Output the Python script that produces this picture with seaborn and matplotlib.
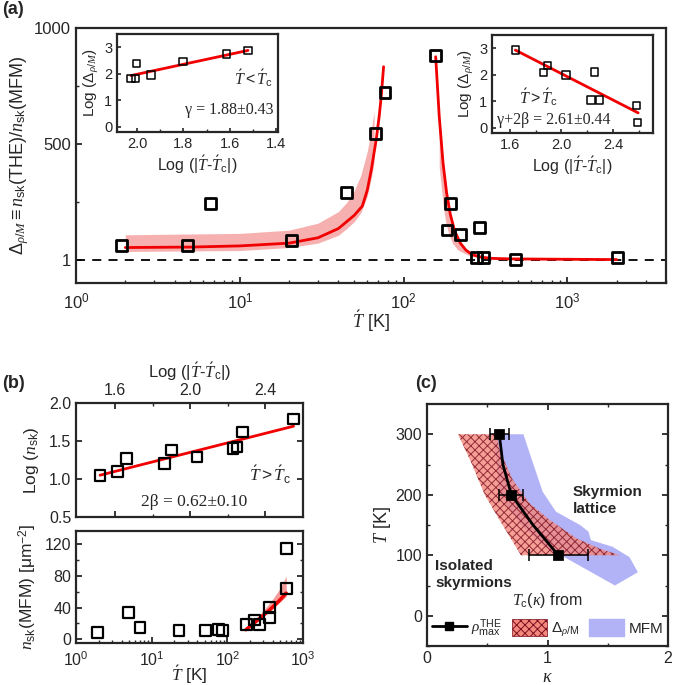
import numpy as np
import pandas as pd
import matplotlib
matplotlib.use("Agg")
import matplotlib.pyplot as plt
import seaborn as sns
from matplotlib.lines import Line2D
from matplotlib.patches import Patch
from matplotlib.ticker import FixedLocator, MultipleLocator, LogLocator, NullFormatter

# ---------------- data: panel (a) ----------------
a_T = [1.9, 4.8, 6.6, 20.7, 44.8, 67.4, 76.9, 157, 184, 193, 222, 290, 280, 307, 484, 2018]
a_D = [62, 62, 242, 83, 290, 546, 721, 880, 129, 244, 108, 138, 10, 10, 3, 10]

# fit below T'c
fitL_T = [2, 5, 10, 20, 30, 40, 45, 50, 56, 60, 63.5, 68, 71, 73, 75.5]
fitL_D = [53, 55, 60, 72, 95, 135, 165, 192, 232, 300, 388, 517, 620, 704, 833]
bandL_T = [2, 10, 20, 30, 40, 45, 50, 55, 60, 64, 66]
bandL_hi = [108, 114, 128, 158, 208, 248, 298, 368, 468, 575, 640]
bandL_lo = [36, 40, 53, 72, 106, 135, 165, 205, 275, 365, 420]
# fit above T'c
fitH_T = [157, 165, 174, 183, 193, 205, 222, 240, 263, 300, 350, 450, 700, 1200, 2000]
fitH_D = [876, 620, 420, 290, 195, 125, 72, 42, 22, 11, 6, 4, 3, 2, 1]
bandH_T = [165, 175, 181, 190, 199, 215, 234, 260, 300, 350]
bandH_hi = [625, 400, 305, 210, 150, 95, 52, 26, 12, 7]
bandH_lo = [400, 230, 160, 105, 72, 42, 29, 15, 8, 5]

# insets of (a)
inL_x = [2.026, 2.006, 2.002, 1.939, 1.802, 1.614, 1.522]
inL_y = [1.81, 1.81, 2.38, 1.95, 2.47, 2.75, 2.88]
inL_fx = [2.026, 1.522]
inL_fy = [1.93, 2.88]
inR_x = [1.644, 1.86, 1.894, 2.036, 2.255, 2.23, 2.294, 2.583, 2.588]
inR_y = [2.93, 2.08, 2.35, 1.99, 2.10, 1.04, 1.04, 0.84, 0.19]
inR_fx = [1.644, 2.595]
inR_fy = [2.93, 0.56]

# ---------------- data: panel (b) ----------------
bt_x = [1.52, 1.614, 1.662, 1.863, 1.9, 2.036, 2.228, 2.249, 2.279, 2.551]
bt_y = [1.05, 1.095, 1.27, 1.205, 1.38, 1.29, 1.40, 1.42, 1.62, 1.79]
bt_fx = [1.52, 2.551]
bt_fy = [1.05, 1.695]

bb_T = [1.94, 4.9, 7.0, 23, 51, 76, 87, 181, 226, 266, 360, 360, 600, 600]
bb_n = [8.3, 33.5, 14.6, 10.8, 10.8, 11.7, 10.8, 18.9, 24.3, 18.9, 27.7, 39.7, 64, 115]
bbfit_T = [176, 200, 250, 300, 350, 400, 480, 550, 600]
bbfit_n = [11.8, 16.3, 23.8, 30.1, 35.7, 40.8, 48.2, 54.2, 58.3]
bbband_hi = [11.8, 17.5, 27.5, 36, 44, 51, 62, 72, 80]
bbband_lo = [11.0, 16.0, 23.0, 28.8, 34.0, 38.6, 45.4, 50.8, 54.0]

# ---------------- data: panel (c) ----------------
c_line_k = [0.60, 0.63, 0.70, 0.88, 1.09]
c_line_T = [300, 250, 200, 150, 100]
c_pts_k = [0.60, 0.70, 1.09]
c_pts_T = [300, 200, 100]
c_err_lo = [0.08, 0.10, 0.24]
c_err_hi = [0.08, 0.10, 0.25]
red_k = [0.257, 0.368, 0.479, 0.603, 0.78, 1.60, 1.43, 1.24, 1.02, 0.85, 0.71, 0.60, 0.58]
red_T = [300, 253, 200, 158, 100, 100, 111, 128, 158, 186, 225, 275, 300]
blue_k = [0.55, 0.80, 0.87, 0.96, 1.07, 1.27, 1.34, 1.36, 1.54, 1.68, 1.75, 1.56, 1.13, 1.0, 0.78, 0.6, 0.58]
blue_T = [300, 300, 258, 205, 172, 150, 139, 125, 114, 97, 72, 50, 98, 110, 150, 200, 250]

# ---------------- style ----------------
sns.set_theme(style="ticks")
plt.rcParams["font.family"] = ["Liberation Sans", "DejaVu Sans"]
plt.rcParams["mathtext.fontset"] = "custom"
plt.rcParams["mathtext.rm"] = "Liberation Sans"
plt.rcParams["mathtext.it"] = "Liberation Serif:italic"
plt.rcParams["mathtext.bf"] = "Liberation Sans:bold"
plt.rcParams["axes.linewidth"] = 1.6
plt.rcParams["hatch.linewidth"] = 0.7
plt.rcParams["xtick.direction"] = "in"
plt.rcParams["ytick.direction"] = "in"

RED = "#f00000"
PINK = "#f7b0b0"
SALMON = "#f4877c"
DARKRED = "#7a1020"
LAV = "#b2b2f7"
SERIF = ["Liberation Serif", "DejaVu Serif"]

W, H = 673, 685
fig = plt.figure(figsize=(W / 100, H / 100), dpi=100)


def px_axes(x0, y0, x1, y1):
    return fig.add_axes([x0 / W, 1 - y1 / H, (x1 - x0) / W, (y1 - y0) / H])


def squares(ax, x, y, s, lw):
    sns.scatterplot(x=x, y=y, ax=ax, marker="s", s=s, facecolor="none",
                    edgecolor="black", linewidth=lw, zorder=5, legend=False)


def redline(ax, x, y, lw=2):
    sns.lineplot(x=x, y=y, ax=ax, color=RED, lw=lw, estimator=None, sort=False, zorder=4)


# ================= panel (a) =================
ax = px_axes(76, 28, 666, 283)
ax.set_xscale("log")
ax.fill_between(bandL_T, bandL_lo, bandL_hi, color=PINK, lw=0, zorder=1)
ax.fill_between(bandH_T, bandH_lo, bandH_hi, color=PINK, lw=0, zorder=1)
ax.axhline(1, color="black", ls=(0, (5, 4)), lw=1.3, zorder=2)
redline(ax, fitL_T, fitL_D)
redline(ax, fitH_T, fitH_D)
squares(ax, a_T, a_D, 60, 2.0)
ax.set_xlim(1, 4000)
ax.set_ylim(-100, 1000)
ax.yaxis.set_major_locator(FixedLocator([1, 500, 1000]))
ax.yaxis.set_minor_locator(FixedLocator([250, 750]))
ax.set_yticklabels(["1", "500", "1000"])
ax.xaxis.set_major_locator(LogLocator(base=10, numticks=10))
ax.xaxis.set_minor_locator(LogLocator(base=10, subs=np.arange(2, 10), numticks=20))
ax.xaxis.set_minor_formatter(NullFormatter())
ax.tick_params(which="major", length=4, width=1.3, labelsize=12)
ax.tick_params(which="minor", length=2.5, width=1.0)
ax.tick_params(axis="x", pad=6)
ax.set_xlabel(r"$\acute{T}$ [K]", fontsize=13, labelpad=-2)
ax.set_ylabel(r"$\Delta_{\rho/M}\equiv n_{\rm sk}$(THE)/$n_{\rm sk}$(MFM)", fontsize=13, labelpad=2)

# left inset
ia = px_axes(117, 34, 278, 132)
redline(ia, inL_fx, inL_fy)
squares(ia, inL_x, inL_y, 28, 1.1)
ia.set_xlim(2.086, 1.393)
ia.set_ylim(-0.2, 3.5)
ia.xaxis.set_major_locator(FixedLocator([2.0, 1.8, 1.6, 1.4]))
ia.xaxis.set_minor_locator(FixedLocator([1.9, 1.7, 1.5]))
ia.set_xticklabels(["2.0", "1.8", "1.6", "1.4"])
ia.yaxis.set_major_locator(FixedLocator([0, 1, 2, 3]))
ia.tick_params(which="major", length=3, width=1.2, labelsize=10.5)
ia.tick_params(which="minor", length=2, width=1.0)
ia.set_xlabel(r"Log (|$\acute{T}$-$\acute{T}_{\rm c}$|)", fontsize=11.5, labelpad=2)
ia.set_ylabel(r"Log ($\Delta_{\rho/M}$)", fontsize=11, labelpad=2)
ia.text(0.97, 0.55, r"$\acute{T} < \acute{T}_{\rm c}$", transform=ia.transAxes,
        ha="right", va="center", fontsize=11.5, family=SERIF)
ia.text(0.97, 0.22, "γ = 1.88±0.43", transform=ia.transAxes,
        ha="right", va="center", fontsize=11.5, family=SERIF)

# right inset
ib = px_axes(492, 35, 653, 133)
redline(ib, inR_fx, inR_fy)
squares(ib, inR_x, inR_y, 28, 1.1)
ib.set_xlim(1.463, 2.71)
ib.set_ylim(-0.2, 3.5)
ib.xaxis.set_major_locator(FixedLocator([1.6, 2.0, 2.4]))
ib.xaxis.set_minor_locator(FixedLocator([1.8, 2.2, 2.6]))
ib.set_xticklabels(["1.6", "2.0", "2.4"])
ib.yaxis.set_major_locator(FixedLocator([0, 1, 2, 3]))
ib.tick_params(which="major", length=3, width=1.2, labelsize=10.5)
ib.tick_params(which="minor", length=2, width=1.0)
ib.set_xlabel(r"Log (|$\acute{T}$-$\acute{T}_{\rm c}$|)", fontsize=11.5, labelpad=2)
ib.set_ylabel(r"Log ($\Delta_{\rho/M}$)", fontsize=11, labelpad=2)
ib.text(0.17, 0.37, r"$\acute{T} > \acute{T}_{\rm c}$", transform=ib.transAxes,
        ha="left", va="center", fontsize=11.5, family=SERIF)
ib.text(0.03, 0.13, "γ+2β = 2.61±0.44", transform=ib.transAxes,
        ha="left", va="center", fontsize=11.5, family=SERIF)

# ================= panel (b) top =================
bt = px_axes(76, 403, 303, 517)
redline(bt, bt_fx, bt_fy)
squares(bt, bt_x, bt_y, 60, 1.6)
bt.set_xlim(1.392, 2.601)
bt.set_ylim(0.5, 2.0)
bt.xaxis.set_major_locator(FixedLocator([1.6, 2.0, 2.4]))
bt.xaxis.set_minor_locator(FixedLocator([1.8, 2.2]))
bt.set_xticklabels(["1.6", "2.0", "2.4"])
bt.yaxis.set_major_locator(FixedLocator([0.5, 1.0, 1.5, 2.0]))
bt.set_yticklabels(["0.5", "1.0", "1.5", "2.0"])
bt.tick_params(axis="x", which="both", top=True, bottom=True, labeltop=True, labelbottom=False)
bt.tick_params(axis="y", which="both", left=True, right=True)
bt.tick_params(which="major", length=4, width=1.3, labelsize=11.5)
bt.tick_params(which="minor", length=2.5, width=1.0)
bt.xaxis.set_label_position("top")
bt.set_xlabel(r"Log (|$\acute{T}$-$\acute{T}_{\rm c}$|)", fontsize=12, labelpad=4)
bt.set_ylabel(r"Log ($n_{\rm sk}$)", fontsize=12.5, labelpad=6)
bt.text(0.95, 0.37, r"$\acute{T} > \acute{T}_{\rm c}$", transform=bt.transAxes,
        ha="right", va="center", fontsize=12.5, family=SERIF)
bt.text(0.52, 0.13, "2β = 0.62±0.10", transform=bt.transAxes,
        ha="center", va="center", fontsize=12.5, family=SERIF)

# ================= panel (b) bottom =================
bb = px_axes(76, 531, 303, 643)
bb.set_xscale("log")
bb.fill_between(bbfit_T, bbband_lo, bbband_hi, color="#f59a9a", lw=0, zorder=1)
redline(bb, bbfit_T, bbfit_n, lw=2.5)
squares(bb, bb_T, bb_n, 60, 1.6)
bb.set_xlim(1, 1000)
bb.set_ylim(-5, 137)
bb.yaxis.set_major_locator(FixedLocator([0, 40, 80, 120]))
bb.yaxis.set_minor_locator(FixedLocator([20, 60, 100]))
bb.xaxis.set_major_locator(LogLocator(base=10, numticks=10))
bb.xaxis.set_minor_locator(LogLocator(base=10, subs=np.arange(2, 10), numticks=20))
bb.xaxis.set_minor_formatter(NullFormatter())
bb.tick_params(axis="y", which="both", left=True, right=True)
bb.tick_params(which="major", length=4, width=1.3, labelsize=11.5)
bb.tick_params(axis="x", pad=5)
bb.tick_params(which="minor", length=2.5, width=1.0)
bb.set_xlabel(r"$\acute{T}$ [K]", fontsize=12.5, labelpad=-4)
bb.set_ylabel(r"$n_{\rm sk}$(MFM) [μm$^{-2}$]", fontsize=12.5, labelpad=4)

# ================= panel (c) =================
cx = px_axes(427, 404, 668, 646)
cx.fill(blue_k, blue_T, facecolor=LAV, edgecolor="none", zorder=1)
cx.fill(red_k, red_T, facecolor=SALMON, edgecolor=DARKRED, hatch="xxxx", lw=0,
        alpha=0.8, zorder=2)
sns.lineplot(x=c_line_k, y=c_line_T, ax=cx, color="black", lw=2, estimator=None,
             sort=False, zorder=4)
cx.errorbar(c_pts_k, c_pts_T, xerr=[c_err_lo, c_err_hi], fmt="none", ecolor="black",
            elinewidth=1.1, capsize=4, capthick=1.1, zorder=5)
sns.scatterplot(x=c_pts_k, y=c_pts_T, ax=cx, marker="s", s=45, color="black",
                edgecolor="black", zorder=6, legend=False)
cx.set_xlim(0, 2)
cx.set_ylim(-50, 350)
cx.xaxis.set_major_locator(FixedLocator([0, 1, 2]))
cx.xaxis.set_minor_locator(FixedLocator([0.5, 1.5]))
cx.yaxis.set_major_locator(FixedLocator([0, 100, 200, 300]))
cx.yaxis.set_minor_locator(FixedLocator([-50, 50, 150, 250]))
cx.tick_params(axis="y", which="both", left=True, right=True)
cx.tick_params(axis="x", which="both", top=True, bottom=True)
cx.tick_params(which="major", length=4, width=1.3, labelsize=11.5)
cx.tick_params(which="minor", length=2.5, width=1.0)
cx.set_xlabel(r"$\kappa$", fontsize=13, labelpad=2)
cx.set_ylabel(r"$T$ [K]", fontsize=13, labelpad=2)
cx.text(0.605, 0.60, "Skyrmion\nlattice", transform=cx.transAxes, fontsize=11,
        fontweight="bold", ha="left", va="center", linespacing=1.3)
cx.text(0.035, 0.295, "Isolated\nskyrmions", transform=cx.transAxes, fontsize=11,
        fontweight="bold", ha="left", va="center", linespacing=1.3)
handles = [
    Line2D([0], [0], color="black", lw=2, marker="s", ms=6),
    Patch(facecolor=SALMON, edgecolor=DARKRED, hatch="xxxx", lw=0.5),
    Patch(facecolor=LAV, edgecolor=LAV),
]
labels = [r"$\rho_{\rm max}^{\rm THE}$", r"$\Delta_{\rho/{\rm M}}$", "MFM"]
leg = cx.legend(handles, labels, ncol=3, loc="lower center", bbox_to_anchor=(0.5, -0.01),
                frameon=False, fontsize=11, title=r"$T_{\rm c}(\kappa)$ from",
                title_fontsize=11.5, handlelength=2.3, handleheight=1.3,
                handletextpad=0.3, columnspacing=0.6, borderaxespad=0.2)

# panel letters
fig.text(2 / W, 1 - 10 / H, "(a)", fontsize=13, fontweight="bold", ha="left", va="center")
fig.text(2 / W, 1 - 383 / H, "(b)", fontsize=13, fontweight="bold", ha="left", va="center")
fig.text(415 / W, 1 - 383 / H, "(c)", fontsize=13, fontweight="bold", ha="left", va="center")

fig.savefig("out.png", dpi=100)
